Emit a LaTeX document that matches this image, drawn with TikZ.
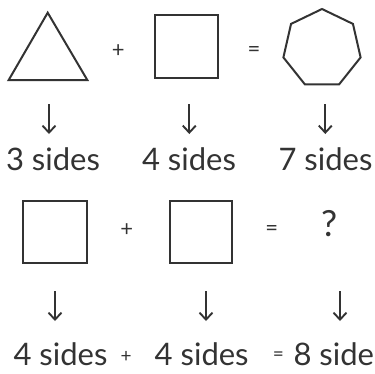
\documentclass[tikz,border=0pt]{standalone}
\usepackage{fontspec}
\setmainfont{Lato}
\usetikzlibrary{arrows.meta}
\definecolor{ink}{HTML}{333333}
\tikzset{
  shp/.style={draw=ink, line width=2pt, line join=miter},
  dnarrow/.style={draw=ink, line width=1.9pt, -{Straight Barb[length=7pt,width=13pt,line width=1.9pt]}},
  lbl/.style={text=ink, font=\fontsize{31}{31}\selectfont, anchor=base, inner sep=0pt},
  op/.style={text=ink, font=\fontsize{22}{22}\selectfont, inner sep=0pt},
  opb/.style={text=ink, font=\fontsize{19}{19}\selectfont, inner sep=0pt},
}
\begin{document}
\begin{tikzpicture}[x=1pt,y=-1pt]
\useasboundingbox (0,0) rectangle (375,373);
% row 1 shapes
\draw[shp] (47.7,12.7) -- (87.3,80) -- (8.7,80) -- cycle;
\node[op] (p1) at (118.3,51) {+};
\draw[shp] (155,15) rectangle (217.7,77.7);
\node[op] (e1) at (254,51) {=};
\draw[shp] (322,9) \foreach \k in {1,...,6} { -- ({322+39.6*cos(90+\k*360/7)},{48.6-39.6*sin(90+\k*360/7)}) } -- cycle;
% row 1 arrows
\coordinate (a1s) at (49,104); \coordinate (a1e) at (49,134);
\coordinate (a2s) at (189.3,104); \coordinate (a2e) at (189.3,134);
\coordinate (a3s) at (325.3,104); \coordinate (a3e) at (325.3,134);
\draw[dnarrow] (a1s) -- (a1e);
\draw[dnarrow] (a2s) -- (a2e);
\draw[dnarrow] (a3s) -- (a3e);
\node[lbl] (t1) at (53,170.7) {3 sides};
\node[lbl] (t2) at (189,170.7) {4 sides};
\node[lbl] (t3) at (325.5,170.7) {7 sides};
% row 2 shapes
\draw[shp] (23.3,200.7) rectangle (87.3,263);
\node[op] (p2) at (126.7,230) {+};
\draw[shp] (170,200.7) rectangle (232.3,263);
\node[op] (e2) at (271.7,230) {=};
\node[text=ink, font=\fontsize{36}{36}\selectfont, inner sep=0pt] (q) at (329.3,223.3) {?};
% row 2 arrows
\coordinate (b1s) at (55,291); \coordinate (b1e) at (55,321);
\coordinate (b2s) at (206,291); \coordinate (b2e) at (206,321);
\coordinate (b3s) at (340,291); \coordinate (b3e) at (340,321);
\draw[dnarrow] (b1s) -- (b1e);
\draw[dnarrow] (b2s) -- (b2e);
\draw[dnarrow] (b3s) -- (b3e);
\node[lbl] (u1) at (60.5,365) {4 sides};
\node[opb] (p3) at (126.2,356.7) {+};
\node[lbl] (u2) at (201.7,365) {4 sides};
\node[opb] (e3) at (278.3,356.5) {=};
\node[lbl, anchor=base west] (u3) at (293.3,365) {8 side};
\end{tikzpicture}
\end{document}
